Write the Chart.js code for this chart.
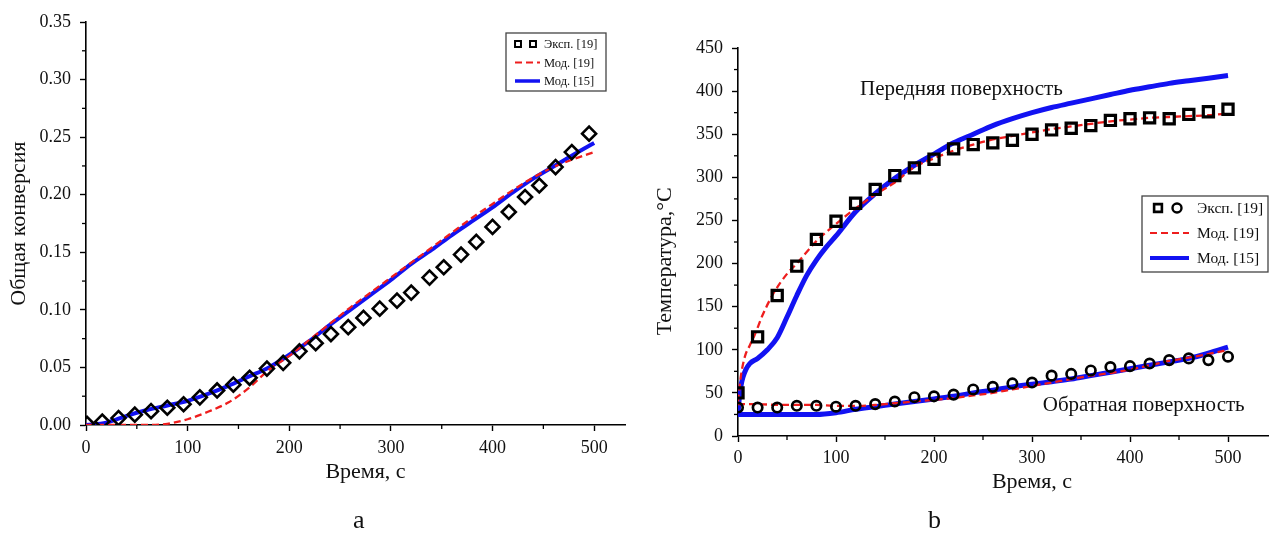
<!DOCTYPE html>
<html>
<head>
<meta charset="utf-8">
<script src="https://cdn.jsdelivr.net/npm/chart.js@4.4.0/dist/chart.umd.min.js"></script>
<style>
  body { margin:0; background:#fff; width:1269px; height:536px; position:relative; overflow:hidden; }
  .wrap { position:absolute; top:0; height:536px; overflow:hidden; }
  .lbl { position:absolute; top:505px; font:26px "Liberation Serif", serif; color:#111; }
</style>
</head>
<body>
<div class="wrap" style="left:0;width:626px"><canvas id="chA" width="660" height="536"></canvas></div>
<div class="wrap" style="left:640px;width:629px"><canvas id="chB" width="720" height="536"></canvas></div>
<div class="lbl" style="left:353px">a</div>
<div class="lbl" style="left:928px">b</div>
<script>
// --- panel a: общая конверсия ---
var tExpA = [1,16,32,48,64,80,96,112,129,145,161,178,194,210,226,241,258,273,289,306,320,338,352,369,384,400,416,432,446,462,478,495];
var expA  = [0.001,0.003,0.006,0.009,0.012,0.015,0.018,0.024,0.030,0.035,0.041,0.049,0.054,0.064,0.071,0.079,0.085,0.093,0.101,0.108,0.115,0.128,0.137,0.148,0.159,0.172,0.185,0.198,0.208,0.224,0.237,0.253];
var tModA = [0,20,40,60,80,100,120,140,160,180,200,220,240,260,280,300,320,340,360,380,400,420,440,460,480,500];
var mod19A = [0,0,0,0,0.001,0.005,0.0115,0.0195,0.032,0.048,0.060,0.074,0.088,0.102,0.115,0.128,0.141,0.154,0.167,0.180,0.192,0.204,0.215,0.224,0.231,0.237];
var mod15A = [0,0.002,0.008,0.013,0.017,0.021,0.027,0.034,0.042,0.050,0.061,0.073,0.087,0.100,0.113,0.126,0.140,0.152,0.165,0.177,0.189,0.202,0.214,0.2245,0.235,0.245];

// --- panel b: температура ---
var tExpB = [0,20,40,60,80,100,120,140,160,180,200,220,240,260,280,300,320,340,360,380,400,420,440,460,480,500];
var expFrontB = [50,115,163,197,228,249,270,286,302,311,321,333,338,340,343,350,355,357,360,366,368,369,368,373,376,379];
var expBackB  = [33,33,33,35,35,34,35,37,40,45,46,48,54,57,61,62,70,72,76,80,81,84,88,90,88,92];
var tM19FrontB = [0,3,7,12,17,25,36,50,60,80,100,120,140,160,180,200,220,240,260,280,300,320,340,360,380,400,420,440,460,480,500];
var m19FrontB  = [40,70,92,105,117,140,165,188,200,226,246,264,280,294,312,322,331,338,344,348,352,356,359,362,365,367,369,370,371,372,374];
var tM19BackB = [0,20,40,60,80,100,120,140,160,180,200,220,240,260,280,300,320,340,360,380,400,420,440,460,480,500];
var m19BackB  = [37,37,36,36,36,35,35,36,38,40,42,44,47,50,54,58,62,66,70,73,77,82,87,91,95,100];
var tM15FrontB = [0,1,3,5,8,12,20,30,40,50,60,70,80,90,100,120,140,160,180,200,220,240,260,280,300,320,340,360,380,400,420,440,460,480,500];
var m15FrontB  = [25,40,58,68,77,84,90,100,114,138,163,186,204,219,232,260,281,299,314,327,340,350,360,368,375,381,386,391,396,401,405,409,412,415,418];
var tM15BackB = [0,20,40,60,80,100,120,140,160,180,200,220,240,260,280,300,320,340,360,380,400,420,440,460,480,500];
var m15BackB  = [25,25,25,25,25,27,31,34,37,40,43,46,50,53,57,60,63,66,70,74,78,82,86,90,96,103];

// ticks
var xMajor = [0,100,200,300,400,500];
var xMinor = [50,150,250,350,450,550];
var yMajorA = [0,0.05,0.10,0.15,0.20,0.25,0.30,0.35];
var yMinorA = [0.025,0.075,0.125,0.175,0.225,0.275,0.325];
var yMajorB = [0,50,100,150,200,250,300,350,400,450];
var yMinorB = [25,75,125,175,225,275,325,375,425];

var SERIF = '"Liberation Serif", "Times New Roman", serif';
var RED = '#ee1d1d', BLUE = '#1212f2';

function pts(xs, ys) { return xs.map(function(x, i){ return {x: x, y: ys[i]}; }); }

// short inner ticks between labelled ones
var minorTicks = {
  id: 'minorTicks',
  afterDraw: function(chart, args, o) {
    var ctx = chart.ctx;
    ctx.save();
    ctx.strokeStyle = '#000'; ctx.lineWidth = 1.3;
    var sx = chart.scales.x, sy = chart.scales.y;
    (o.x || []).forEach(function(v){
      var p = sx.getPixelForValue(v);
      ctx.beginPath(); ctx.moveTo(p, sx.top); ctx.lineTo(p, sx.top + 4); ctx.stroke();
    });
    (o.y || []).forEach(function(v){
      var p = sy.getPixelForValue(v);
      ctx.beginPath(); ctx.moveTo(sy.right, p); ctx.lineTo(sy.right - 4, p); ctx.stroke();
    });
    ctx.restore();
  }
};

// boxed legend like in the figure
var boxLegend = {
  id: 'boxLegend',
  afterDraw: function(chart, args, o) {
    if (!o.rows) return;
    var ctx = chart.ctx;
    ctx.save();
    ctx.fillStyle = '#fff';
    ctx.fillRect(o.x, o.y, o.w, o.h);
    ctx.strokeStyle = '#444'; ctx.lineWidth = 1.3;
    ctx.strokeRect(o.x, o.y, o.w, o.h);
    o.rows.forEach(function(r, i){
      var cy = o.y + o.first + i * o.gap;
      var ds = chart.data.datasets[r.ds];
      if (r.marks) {
        r.marks.forEach(function(m){
          ctx.fillStyle = '#fff'; ctx.strokeStyle = '#000'; ctx.lineWidth = m.bw;
          ctx.setLineDash([]);
          Chart.helpers.drawPoint(ctx, {pointStyle: m.style, radius: m.r, borderWidth: m.bw, rotation: 0}, o.x + m.dx, cy);
        });
      } else {
        ctx.strokeStyle = ds.borderColor; ctx.lineWidth = r.lw;
        ctx.setLineDash(ds.borderDash || []);
        ctx.beginPath(); ctx.moveTo(o.x + o.lx0, cy); ctx.lineTo(o.x + o.lx1, cy); ctx.stroke();
      }
      ctx.setLineDash([]);
      ctx.fillStyle = '#111';
      ctx.font = o.size + 'px ' + SERIF;
      ctx.textBaseline = 'middle';
      ctx.fillText(ds.label, o.x + o.tx, cy + 1);
    });
    ctx.restore();
  }
};

// text notes inside plot b
var notes = {
  id: 'notes',
  afterDraw: function(chart, args, o) {
    if (!o.items) return;
    var ctx = chart.ctx;
    ctx.save();
    ctx.fillStyle = '#111';
    ctx.font = o.size + 'px ' + SERIF;
    ctx.textAlign = 'center'; ctx.textBaseline = 'middle';
    o.items.forEach(function(it){
      ctx.fillText(it.text, chart.scales.x.getPixelForValue(it.x), chart.scales.y.getPixelForValue(it.y));
    });
    ctx.restore();
  }
};

function xScale(max, h, tpad, lpad) {
  return {
    type: 'linear', min: 0, max: max,
    afterBuildTicks: function(s){ s.ticks = xMajor.map(function(v){ return {value: v}; }); },
    afterFit: function(s){ s.height = h; },
    ticks: { font: {family: SERIF, size: 18}, color: '#111', padding: lpad, maxRotation: 0, autoSkip: false },
    grid: { drawOnChartArea: false, drawTicks: true, tickLength: 6, tickColor: '#000', tickWidth: 1.4 },
    border: { display: true, color: '#000', width: 1.6 },
    title: { display: true, text: 'Время, с', font: {family: SERIF, size: 22}, color: '#111', padding: {top: 0, bottom: tpad} }
  };
}
function yScale(max, major, w, text, tpad, fmt) {
  return {
    type: 'linear', min: 0, max: max,
    afterBuildTicks: function(s){ s.ticks = major.map(function(v){ return {value: v}; }); },
    afterFit: function(s){ s.width = w; },
    ticks: { font: {family: SERIF, size: 18}, color: '#111', padding: 9, callback: fmt },
    grid: { drawOnChartArea: false, drawTicks: true, tickLength: 6, tickColor: '#000', tickWidth: 1.4 },
    border: { display: true, color: '#000', width: 1.6 },
    title: { display: true, text: text, font: {family: SERIF, size: 22}, color: '#111', padding: {top: tpad, bottom: 0} }
  };
}

var lineBase = { showLine: true, pointRadius: 0, fill: false, cubicInterpolationMode: 'monotone' };
function line(label, data, color, w, dash, order) {
  return Object.assign({}, lineBase, { label: label, data: data, borderColor: color, borderWidth: w, borderDash: dash || [], order: order });
}
function marks(label, data, style, r, bw) {
  return { label: label, data: data, showLine: false, pointStyle: style, pointRadius: r, pointBorderWidth: bw,
           pointBorderColor: '#000', pointBackgroundColor: 'rgba(255,255,255,0)', borderColor: '#000', order: 0 };
}

new Chart(document.getElementById('chA'), {
  type: 'scatter',
  data: { datasets: [
    marks('Эксп. [19]', pts(tExpA, expA), 'rectRot', 7, 2.6),
    line('Мод. [19]', pts(tModA, mod19A), RED, 2.3, [7, 4], 1),
    line('Мод. [15]', pts(tModA, mod15A), BLUE, 4, null, 2)
  ]},
  options: {
    responsive: false, animation: false,
    layout: { padding: { left: 0, top: 22, right: 15, bottom: 0 } },
    scales: {
      x: xScale(550, 111, 51, 6),
      y: yScale(0.35, yMajorA, 86, 'Общая конверсия', 6, function(v){ return v.toFixed(2); })
    },
    plugins: {
      legend: { display: false }, tooltip: { enabled: false },
      minorTicks: { x: xMinor, y: yMinorA },
      boxLegend: { x: 506, y: 33, w: 100, h: 58, first: 11, gap: 18.5, lx0: 9, lx1: 34, tx: 38, size: 12.5,
        rows: [
          { ds: 0, marks: [ {style: 'rect', r: 4.2, bw: 2, dx: 12}, {style: 'rect', r: 4.2, bw: 2, dx: 27} ] },
          { ds: 1, lw: 2 },
          { ds: 2, lw: 3.5 }
        ] }
    }
  },
  plugins: [minorTicks, boxLegend]
});

new Chart(document.getElementById('chB'), {
  type: 'scatter',
  data: { datasets: [
    marks('Эксп. [19]', pts(tExpB, expFrontB), 'rect', 7.2, 3.2),
    marks('Эксп. [19]', pts(tExpB, expBackB), 'circle', 4.7, 2.7),
    line('Мод. [19]', pts(tM19FrontB, m19FrontB), RED, 2.3, [7, 4], 1),
    line('Мод. [19]', pts(tM19BackB, m19BackB), RED, 2.3, [7, 4], 1),
    line('Мод. [15]', pts(tM15FrontB, m15FrontB), BLUE, 5, null, 2),
    line('Мод. [15]', pts(tM15BackB, m15BackB), BLUE, 5, null, 2)
  ]},
  options: {
    responsive: false, animation: false,
    layout: { padding: { left: 0, top: 48, right: 34, bottom: 0 } },
    scales: {
      x: xScale(600, 100, 41, 5),
      // trailing spaces push the rotated title a bit lower, as in the figure
      y: yScale(450, yMajorB, 98, 'Температура,°C       ', 12, function(v){ return v; })
    },
    plugins: {
      legend: { display: false }, tooltip: { enabled: false },
      minorTicks: { x: xMinor, y: yMinorB },
      boxLegend: { x: 502, y: 196, w: 126, h: 76, first: 12, gap: 25, lx0: 8, lx1: 47, tx: 55, size: 15.5,
        rows: [
          { ds: 0, marks: [ {style: 'rect', r: 5.5, bw: 2.6, dx: 16}, {style: 'circle', r: 4.5, bw: 2.4, dx: 35} ] },
          { ds: 2, lw: 2.2 },
          { ds: 4, lw: 4 }
        ] },
      notes: { size: 21, items: [
        { text: 'Передняя поверхность', x: 228, y: 402 },
        { text: 'Обратная поверхность', x: 414, y: 35 }
      ] }
    }
  },
  plugins: [minorTicks, boxLegend, notes]
});
</script>
</body>
</html>
